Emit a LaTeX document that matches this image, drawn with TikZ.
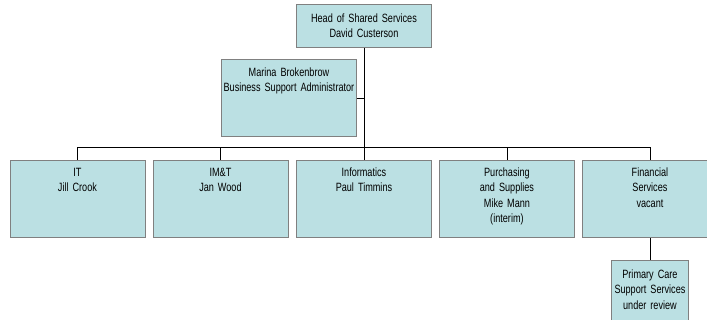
\documentclass[tikz,border=0pt]{standalone}
\usepackage{fontspec}
\setmainfont{Liberation Sans}[FakeStretch=0.76]
\usetikzlibrary{positioning}

\definecolor{boxfill}{RGB}{187,224,227}
\definecolor{boxline}{RGB}{128,128,128}

\tikzset{
	unit/.style = {draw = boxline, fill = boxfill, line width = 0.9pt, inner sep = 0pt,
		anchor = north west, align = center, text width = 135pt,
		text height = 16pt, text depth = 61pt,
		font = \fontsize{12pt}{15.5pt}\selectfont},
	link/.style = {draw = black, line width = 0.8pt}
}

\begin{document}
\begin{tikzpicture}[x = 1pt, y = -1pt]
	\clip (0,0) rectangle (707,320);
	\node[unit, text height = 18pt, text depth = 25pt] (head) at (296,4) {Head of Shared Services\\David Custerson};
	\node[unit, text height = 17pt, text depth = 60pt] (admin) at (221,59) {Marina Brokenbrow\\Business Support Administrator};
	\node[unit] (it) at (9.5,160) {IT\\Jill Crook};
	\node[unit] (imt) at (152.5,160) {IM\&T\\Jan Wood};
	\node[unit] (info) at (296,160) {Informatics\\Paul Timmins};
	\node[unit] (purch) at (439,160) {Purchasing\\and Supplies\\Mike Mann\\(interim)};
	\node[unit] (fin) at (582,160) {Financial\\Services\\vacant};
	\node[unit, text width = 77pt, text height = 18pt, text depth = 59pt] (care) at (611,260) {Primary Care\\Support Services\\under review};
	\coordinate (bus) at (0,147);

	\draw[link] (head.south) -- (info.north);
	\draw[link] (admin.east) -- (admin.east -| head.south);
	\draw[link] (it.north) -- (it.north |- bus) -- (fin.north |- bus) -- (fin.north);
	\foreach \n in {imt, purch}
		\draw[link] (\n.north) -- (\n.north |- bus);
	\draw[link] (fin.south) -- (care.north);
\end{tikzpicture}
\end{document}
